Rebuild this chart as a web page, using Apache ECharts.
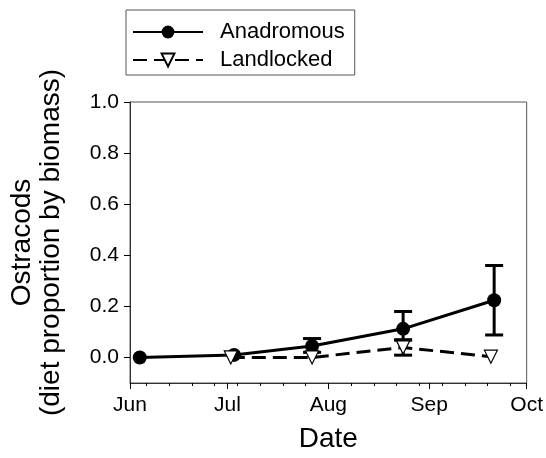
<!DOCTYPE html>
<html>
<head>
<meta charset="utf-8">
<script src="https://cdn.jsdelivr.net/npm/echarts@6/dist/echarts.min.js"></script>
<style>
  html,body{margin:0;padding:0;background:#fff;}
  #chart{width:546px;height:458px;}
</style>
</head>
<body>
<div id="chart"></div>
<script>
// axis ticks
var monthTicks = ['2010-06-01', '2010-07-01', '2010-08-01', '2010-09-01', '2010-10-01'];
var monthLabels = ['Jun', 'Jul', 'Aug', 'Sep', 'Oct'];
var weekTicks = ['2010-06-06', '2010-06-13', '2010-06-20', '2010-06-27', '2010-07-04', '2010-07-11',
  '2010-07-18', '2010-07-25', '2010-08-08', '2010-08-15', '2010-08-22', '2010-08-29',
  '2010-09-05', '2010-09-12', '2010-09-19', '2010-09-26'];
var yTicks = [0, 0.2, 0.4, 0.6, 0.8, 1.0];

// Anadromous
var anaDates = ['2010-06-04', '2010-07-03', '2010-07-27', '2010-08-24', '2010-09-21'];
var anaMean = [0.0, 0.01, 0.045, 0.112, 0.224];
var anaLow = [null, null, 0.02, 0.069, 0.088];
var anaHigh = [null, null, 0.074, 0.18, 0.36];

// Landlocked
var landDates = ['2010-07-02', '2010-07-27', '2010-08-24', '2010-09-20'];
var landMean = [0.0, 0.0, 0.039, 0.003];
var landLow = [null, null, 0.009, null];
var landHigh = [null, null, 0.068, null];

// days counted from Jun 1
function d(s){
  var p = s.split('-');
  return Math.round((Date.UTC(+p[0], p[1] - 1, +p[2]) - Date.UTC(2010, 5, 1)) / 86400000);
}

function points(dates, vals){
  var out = [];
  for (var i = 0; i < dates.length; i++) out.push([d(dates[i]), vals[i]]);
  return out;
}
function bars(dates, lo, hi){
  var out = [];
  for (var i = 0; i < dates.length; i++) {
    if (lo[i] != null) out.push([d(dates[i]), lo[i], hi[i]]);
  }
  return out;
}

var monthDays = monthTicks.map(d);
var weekDays = weekTicks.map(d);
var font = 'Liberation Sans, Arial, sans-serif';

function errorBar(params, api){
  var x = api.value(0);
  var lo = api.coord([x, api.value(1)]);
  var hi = api.coord([x, api.value(2)]);
  var w = 9;
  var st = {stroke: '#000', lineWidth: 3};
  return {
    type: 'group',
    children: [
      {type: 'line', shape: {x1: lo[0], y1: lo[1], x2: hi[0], y2: hi[1]}, style: st},
      {type: 'line', shape: {x1: lo[0] - w, y1: lo[1], x2: lo[0] + w, y2: lo[1]}, style: st},
      {type: 'line', shape: {x1: hi[0] - w, y1: hi[1], x2: hi[0] + w, y2: hi[1]}, style: st}
    ]
  };
}

var chart = echarts.init(document.getElementById('chart'));
var option = {
  animation: false,
  textStyle: {fontFamily: font},
  legend: {
    orient: 'vertical',
    left: 126,
    top: 10,
    padding: [11, 10, 4, 6],
    itemWidth: 70,
    itemHeight: 16,
    itemGap: 6,
    borderColor: '#555',
    borderWidth: 1,
    textStyle: {fontSize: 22, color: '#000', fontFamily: font, padding: [0, 0, 0, 12]},
    data: ['Anadromous', 'Landlocked']
  },
  grid: {
    left: 130,
    right: 13,
    top: 102,
    bottom: 74,
    show: true,
    borderColor: '#555',
    borderWidth: 1
  },
  xAxis: [
    {
      type: 'value',
      min: monthDays[0],
      max: monthDays[monthDays.length - 1],
      name: 'Date',
      nameLocation: 'middle',
      nameGap: 42,
      nameTextStyle: {fontSize: 28, color: '#000', fontFamily: font},
      axisLine: {onZero: false, lineStyle: {color: '#333', width: 1}},
      axisTick: {show: true, inside: false, length: 6, customValues: monthDays, lineStyle: {color: '#000'}},
      axisLabel: {
        customValues: monthDays,
        fontSize: 21,
        color: '#000',
        margin: 12,
        formatter: function(v){
          var i = monthDays.indexOf(v);
          return i >= 0 ? monthLabels[i] : '';
        }
      },
      splitLine: {show: false}
    },
    {
      type: 'value',
      position: 'bottom',
      min: monthDays[0],
      max: monthDays[monthDays.length - 1],
      axisLine: {show: false, onZero: false},
      axisTick: {show: true, length: 3, customValues: weekDays, lineStyle: {color: '#000'}},
      axisLabel: {show: false},
      splitLine: {show: false}
    }
  ],
  yAxis: {
    type: 'value',
    min: -0.1,
    max: 1.0,
    name: 'Ostracods\n(diet proportion by biomass)',
    nameLocation: 'middle',
    nameRotate: 90,
    nameGap: 64,
    nameTextStyle: {fontSize: 28, color: '#000', fontFamily: font, lineHeight: 29},
    axisLine: {show: true, onZero: false, lineStyle: {color: '#333', width: 1}},
    axisTick: {show: true, length: 6, customValues: yTicks, lineStyle: {color: '#000'}},
    axisLabel: {
      customValues: yTicks,
      fontSize: 21,
      color: '#000',
      margin: 11,
      formatter: function(v){ return v.toFixed(1); }
    },
    splitLine: {show: false}
  },
  series: [
    {
      name: 'Anadromous',
      type: 'line',
      data: points(anaDates, anaMean),
      symbol: 'circle',
      symbolSize: 14,
      itemStyle: {color: '#000'},
      lineStyle: {color: '#000', width: 3},
      z: 3
    },
    {
      type: 'custom',
      data: bars(anaDates, anaLow, anaHigh),
      renderItem: errorBar,
      z: 2
    },
    {
      type: 'custom',
      data: bars(landDates, landLow, landHigh),
      renderItem: errorBar,
      z: 2
    },
    {
      name: 'Landlocked',
      type: 'line',
      data: points(landDates, landMean),
      symbol: 'triangle',
      symbolRotate: 180,
      symbolSize: 13,
      itemStyle: {color: '#fff', borderColor: '#000', borderWidth: 1.2},
      lineStyle: {color: '#000', width: 3, type: [14, 7]},
      z: 4
    }
  ]
};
chart.setOption(option);
</script>
</body>
</html>
